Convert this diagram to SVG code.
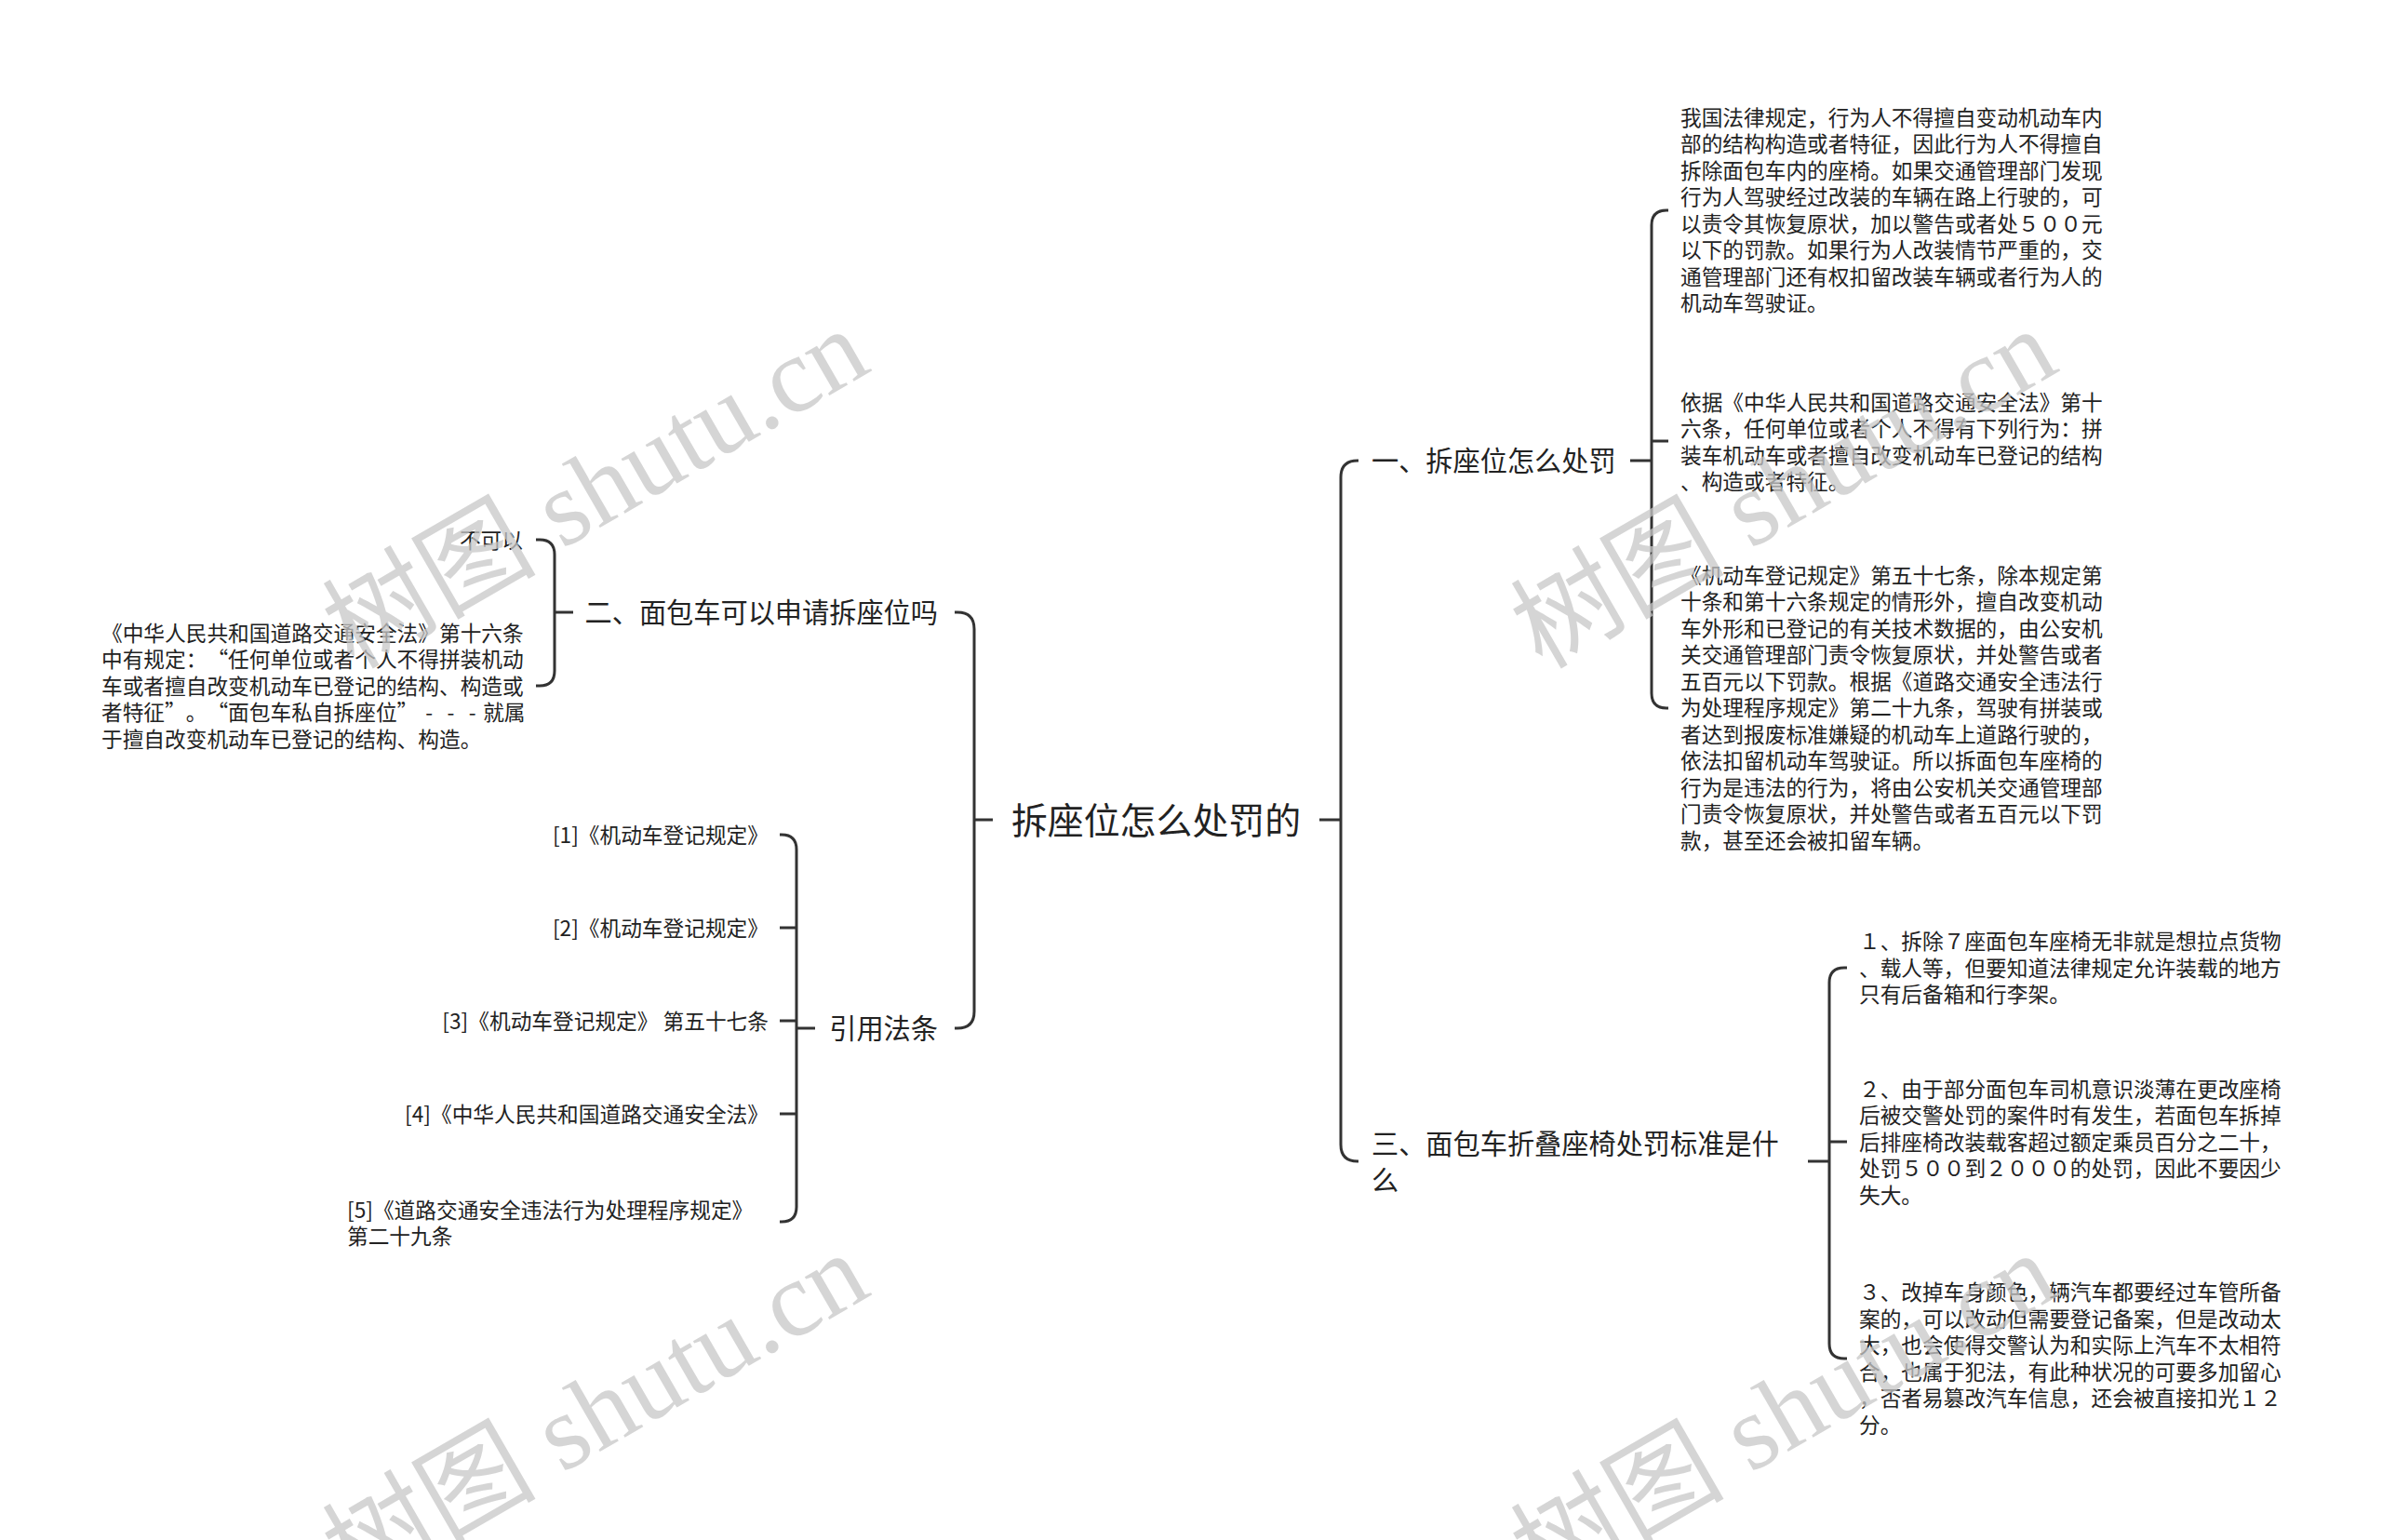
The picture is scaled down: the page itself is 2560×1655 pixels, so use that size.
<svg xmlns="http://www.w3.org/2000/svg" width="2560" height="1655" viewBox="0 0 2560 1655">
<style>
.t{font-family:"Noto Sans CJK SC","Noto Sans",sans-serif;fill:#222}
.s{font-size:22.7px}
.m{font-size:29.2px}
.r{font-size:38.9px}
.e{text-anchor:end}
.mid{text-anchor:middle}
.dash{letter-spacing:15.4px}
.c{fill:none;stroke:#333;stroke-width:3}
.wm{font-family:"Liberation Serif","Noto Sans CJK SC",serif;font-size:115px;fill:#c8c8c8;opacity:0.75}
</style>
<rect width="2560" height="1655" fill="#fff"/>
<g id="connectors" class="c">
<path d="M1047 881H1067M1418 881H1441"/>
<path d="M1026 658H1029Q1047 658 1047 676V1087Q1047 1105 1029 1105H1026"/>
<path d="M1460 495H1459Q1441 495 1441 513V1230Q1441 1248 1459 1248H1460"/>
<path d="M1752 495H1775"/>
<path d="M1793 226H1791Q1775 226 1775 242V745Q1775 761 1791 761H1793M1775 474H1793"/>
<path d="M1943 1248H1966"/>
<path d="M1985 1040H1982Q1966 1040 1966 1056V1444Q1966 1460 1982 1460H1985M1966 1227H1985"/>
<path d="M596 658H616"/>
<path d="M576 580H580Q596 580 596 596V721Q596 737 580 737H576"/>
<path d="M856 1105H876"/>
<path d="M838 897H840Q856 897 856 913V1297Q856 1313 840 1313H838M838 997H856M838 1097H856M838 1197H856"/>
</g>
<g id="node-root"><text class="t r mid" x="1242.5" y="896">拆座位怎么处罚的</text></g>
<g id="node-b1"><text class="t m" x="1474" y="506">一、拆座位怎么处罚</text></g>
<g id="node-b1-c1"><text class="t s" x="1806" y="134.6"><tspan x="1806">我国法律规定，行为人不得擅自变动机动车内</tspan><tspan x="1806" dy="28.5">部的结构构造或者特征，因此行为人不得擅自</tspan><tspan x="1806" dy="28.5">拆除面包车内的座椅。如果交通管理部门发现</tspan><tspan x="1806" dy="28.5">行为人驾驶经过改装的车辆在路上行驶的，可</tspan><tspan x="1806" dy="28.5">以责令其恢复原状，加以警告或者处５００元</tspan><tspan x="1806" dy="28.5">以下的罚款。如果行为人改装情节严重的，交</tspan><tspan x="1806" dy="28.5">通管理部门还有权扣留改装车辆或者行为人的</tspan><tspan x="1806" dy="28.5">机动车驾驶证。</tspan></text></g>
<g id="node-b1-c2"><text class="t s" x="1806" y="440.6"><tspan x="1806">依据《中华人民共和国道路交通安全法》第十</tspan><tspan x="1806" dy="28.5">六条，任何单位或者个人不得有下列行为：拼</tspan><tspan x="1806" dy="28.5">装车机动车或者擅自改变机动车已登记的结构</tspan><tspan x="1806" dy="28.5">、构造或者特征。</tspan></text></g>
<g id="node-b1-c3"><text class="t s" x="1806" y="626.6"><tspan x="1806">《机动车登记规定》第五十七条，除本规定第</tspan><tspan x="1806" dy="28.5">十条和第十六条规定的情形外，擅自改变机动</tspan><tspan x="1806" dy="28.5">车外形和已登记的有关技术数据的，由公安机</tspan><tspan x="1806" dy="28.5">关交通管理部门责令恢复原状，并处警告或者</tspan><tspan x="1806" dy="28.5">五百元以下罚款。根据《道路交通安全违法行</tspan><tspan x="1806" dy="28.5">为处理程序规定》第二十九条，驾驶有拼装或</tspan><tspan x="1806" dy="28.5">者达到报废标准嫌疑的机动车上道路行驶的，</tspan><tspan x="1806" dy="28.5">依法扣留机动车驾驶证。所以拆面包车座椅的</tspan><tspan x="1806" dy="28.5">行为是违法的行为，将由公安机关交通管理部</tspan><tspan x="1806" dy="28.5">门责令恢复原状，并处警告或者五百元以下罚</tspan><tspan x="1806" dy="28.5">款，甚至还会被扣留车辆。</tspan></text></g>
<g id="node-b3"><text class="t m" x="1474" y="1240"><tspan x="1474">三、面包车折叠座椅处罚标准是什</tspan><tspan x="1474" dy="38.5">么</tspan></text></g>
<g id="node-b3-c1"><text class="t s" x="1998" y="1020.1"><tspan x="1998">１、拆除７座面包车座椅无非就是想拉点货物</tspan><tspan x="1998" dy="28.5">、载人等，但要知道法律规定允许装载的地方</tspan><tspan x="1998" dy="28.5">只有后备箱和行李架。</tspan></text></g>
<g id="node-b3-c2"><text class="t s" x="1998" y="1178.6"><tspan x="1998">２、由于部分面包车司机意识淡薄在更改座椅</tspan><tspan x="1998" dy="28.5">后被交警处罚的案件时有发生，若面包车拆掉</tspan><tspan x="1998" dy="28.5">后排座椅改装载客超过额定乘员百分之二十，</tspan><tspan x="1998" dy="28.5">处罚５００到２０００的处罚，因此不要因少</tspan><tspan x="1998" dy="28.5">失大。</tspan></text></g>
<g id="node-b3-c3"><text class="t s" x="1998" y="1397.4"><tspan x="1998">３、改掉车身颜色，辆汽车都要经过车管所备</tspan><tspan x="1998" dy="28.5">案的，可以改动但需要登记备案，但是改动太</tspan><tspan x="1998" dy="28.5">大，也会使得交警认为和实际上汽车不太相符</tspan><tspan x="1998" dy="28.5">合，也属于犯法，有此种状况的可要多加留心</tspan><tspan x="1998" dy="28.5">，否者易篡改汽车信息，还会被直接扣光１２</tspan><tspan x="1998" dy="28.5">分。</tspan></text></g>
<g id="node-b2"><text class="t m e" x="1008" y="669">二、面包车可以申请拆座位吗</text></g>
<g id="node-b2-c1"><text class="t s e" x="562" y="588.6">不可以</text></g>
<g id="node-b2-c2"><text class="t s" x="109" y="688.6"><tspan x="109">《中华人民共和国道路交通安全法》第十六条</tspan><tspan x="109" dy="28.5">中有规定：</tspan><tspan dx="11.35">“任何单位或者个人不得拼装机动</tspan><tspan x="109" dy="28.5">车或者擅自改变机动车已登记的结构、构造或</tspan><tspan x="109" dy="28.5">者特征”</tspan><tspan dx="11.35">。</tspan><tspan dx="11.35">“面包车私自拆座位”</tspan><tspan class="dash" dx="8">---</tspan><tspan dx="-8">就属</tspan><tspan x="109" dy="28.5">于擅自改变机动车已登记的结构、构造。</tspan></text></g>
<g id="node-b4"><text class="t m e" x="1008" y="1116">引用法条</text></g>
<g id="node-b4-c1"><text class="t s e" x="826" y="905.6">[1]《机动车登记规定》</text></g>
<g id="node-b4-c2"><text class="t s e" x="826" y="1005.6">[2]《机动车登记规定》</text></g>
<g id="node-b4-c3"><text class="t s e" x="826" y="1105.6">[3]《机动车登记规定》 第五十七条</text></g>
<g id="node-b4-c4"><text class="t s e" x="826" y="1205.6">[4]《中华人民共和国道路交通安全法》</text></g>
<g id="node-b4-c5"><text class="t s" x="373" y="1308.6"><tspan x="373">[5]《道路交通安全违法行为处理程序规定》</tspan><tspan x="373" dy="28.5">第二十九条</tspan></text></g>
<g id="watermarks">
<text class="wm" transform="translate(380 720) rotate(-30)">树图 shutu.cn</text>
<text class="wm" transform="translate(1657 720) rotate(-30)">树图 shutu.cn</text>
<text class="wm" transform="translate(380 1713) rotate(-30)">树图 shutu.cn</text>
<text class="wm" transform="translate(1657 1713) rotate(-30)">树图 shutu.cn</text>
</g>
</svg>
